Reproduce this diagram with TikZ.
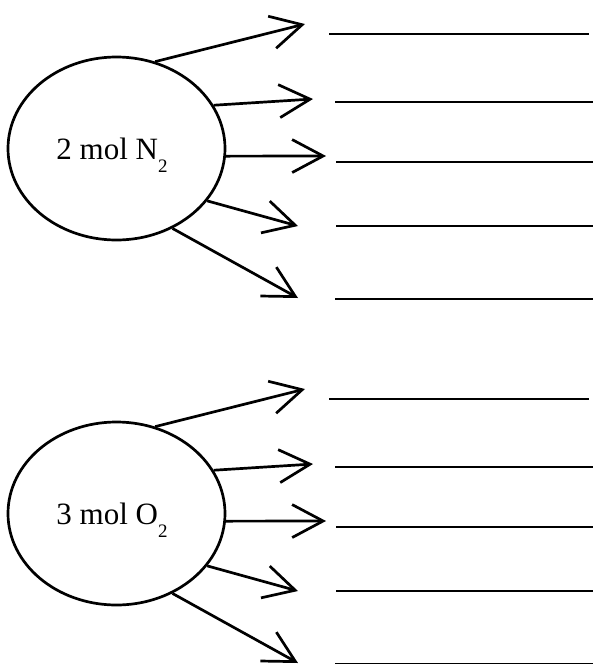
\documentclass[tikz,border=0pt]{standalone}
\usepackage{fontspec}
\setmainfont{Liberation Serif}
\usetikzlibrary{shapes.geometric,arrows.meta}
\tikzset{
  blob/.style={ellipse,draw,line width=2.7pt,minimum width=217pt,minimum height=183pt,inner sep=0pt},
  blobtext/.style={inner sep=0pt,anchor=base,font=\fontsize{31}{34}\selectfont},
  outarrow/.style={line width=2.7pt,-{Straight Barb[length=31pt,width=33pt,line width=2.7pt]}},
  blank/.style={line width=2.7pt}
}
\newcommand{\sbtwo}{\raisebox{-0.42em}{\fontsize{19}{19}\selectfont 2}}
\begin{document}
\begin{tikzpicture}[x=1pt,y=-1pt]
\useasboundingbox (0,0) rectangle (593,664);
\foreach \g/\dy/\lab in {a/0/{2 mol N\sbtwo}, b/365/{3 mol O\sbtwo}}{
  \begin{scope}[yshift=-\dy pt]
    \node[blob] (\g e) at (116.5,148.5) {};
    \node[blobtext] (\g txt) at (112,159) {\lab};
    \coordinate (\g t1) at (305,24);
    \coordinate (\g t2) at (313,99);
    \coordinate (\g t3) at (326,156);
    \coordinate (\g t4) at (298,226);
    \coordinate (\g t5) at (298,298);
    \draw[outarrow] (\g e.66) -- (\g t1);
    \draw[outarrow] (\g e.24) -- (\g t2);
    \draw[outarrow] (\g e.-4) -- (\g t3);
    \draw[outarrow] (\g e.-30) -- (\g t4);
    \draw[outarrow] (\g e.-55) -- (\g t5);
    \coordinate (\g l1a) at (329,34);  \coordinate (\g l1b) at (589,34);
    \coordinate (\g l2a) at (335,102); \coordinate (\g l2b) at (593,102);
    \coordinate (\g l3a) at (336,162); \coordinate (\g l3b) at (593,162);
    \coordinate (\g l4a) at (336,226); \coordinate (\g l4b) at (593,226);
    \coordinate (\g l5a) at (335,299); \coordinate (\g l5b) at (593,299);
    \draw[blank] (\g l1a) -- (\g l1b);
    \draw[blank] (\g l2a) -- (\g l2b);
    \draw[blank] (\g l3a) -- (\g l3b);
    \draw[blank] (\g l4a) -- (\g l4b);
    \draw[blank] (\g l5a) -- (\g l5b);
  \end{scope}
}
\end{tikzpicture}
\end{document}
